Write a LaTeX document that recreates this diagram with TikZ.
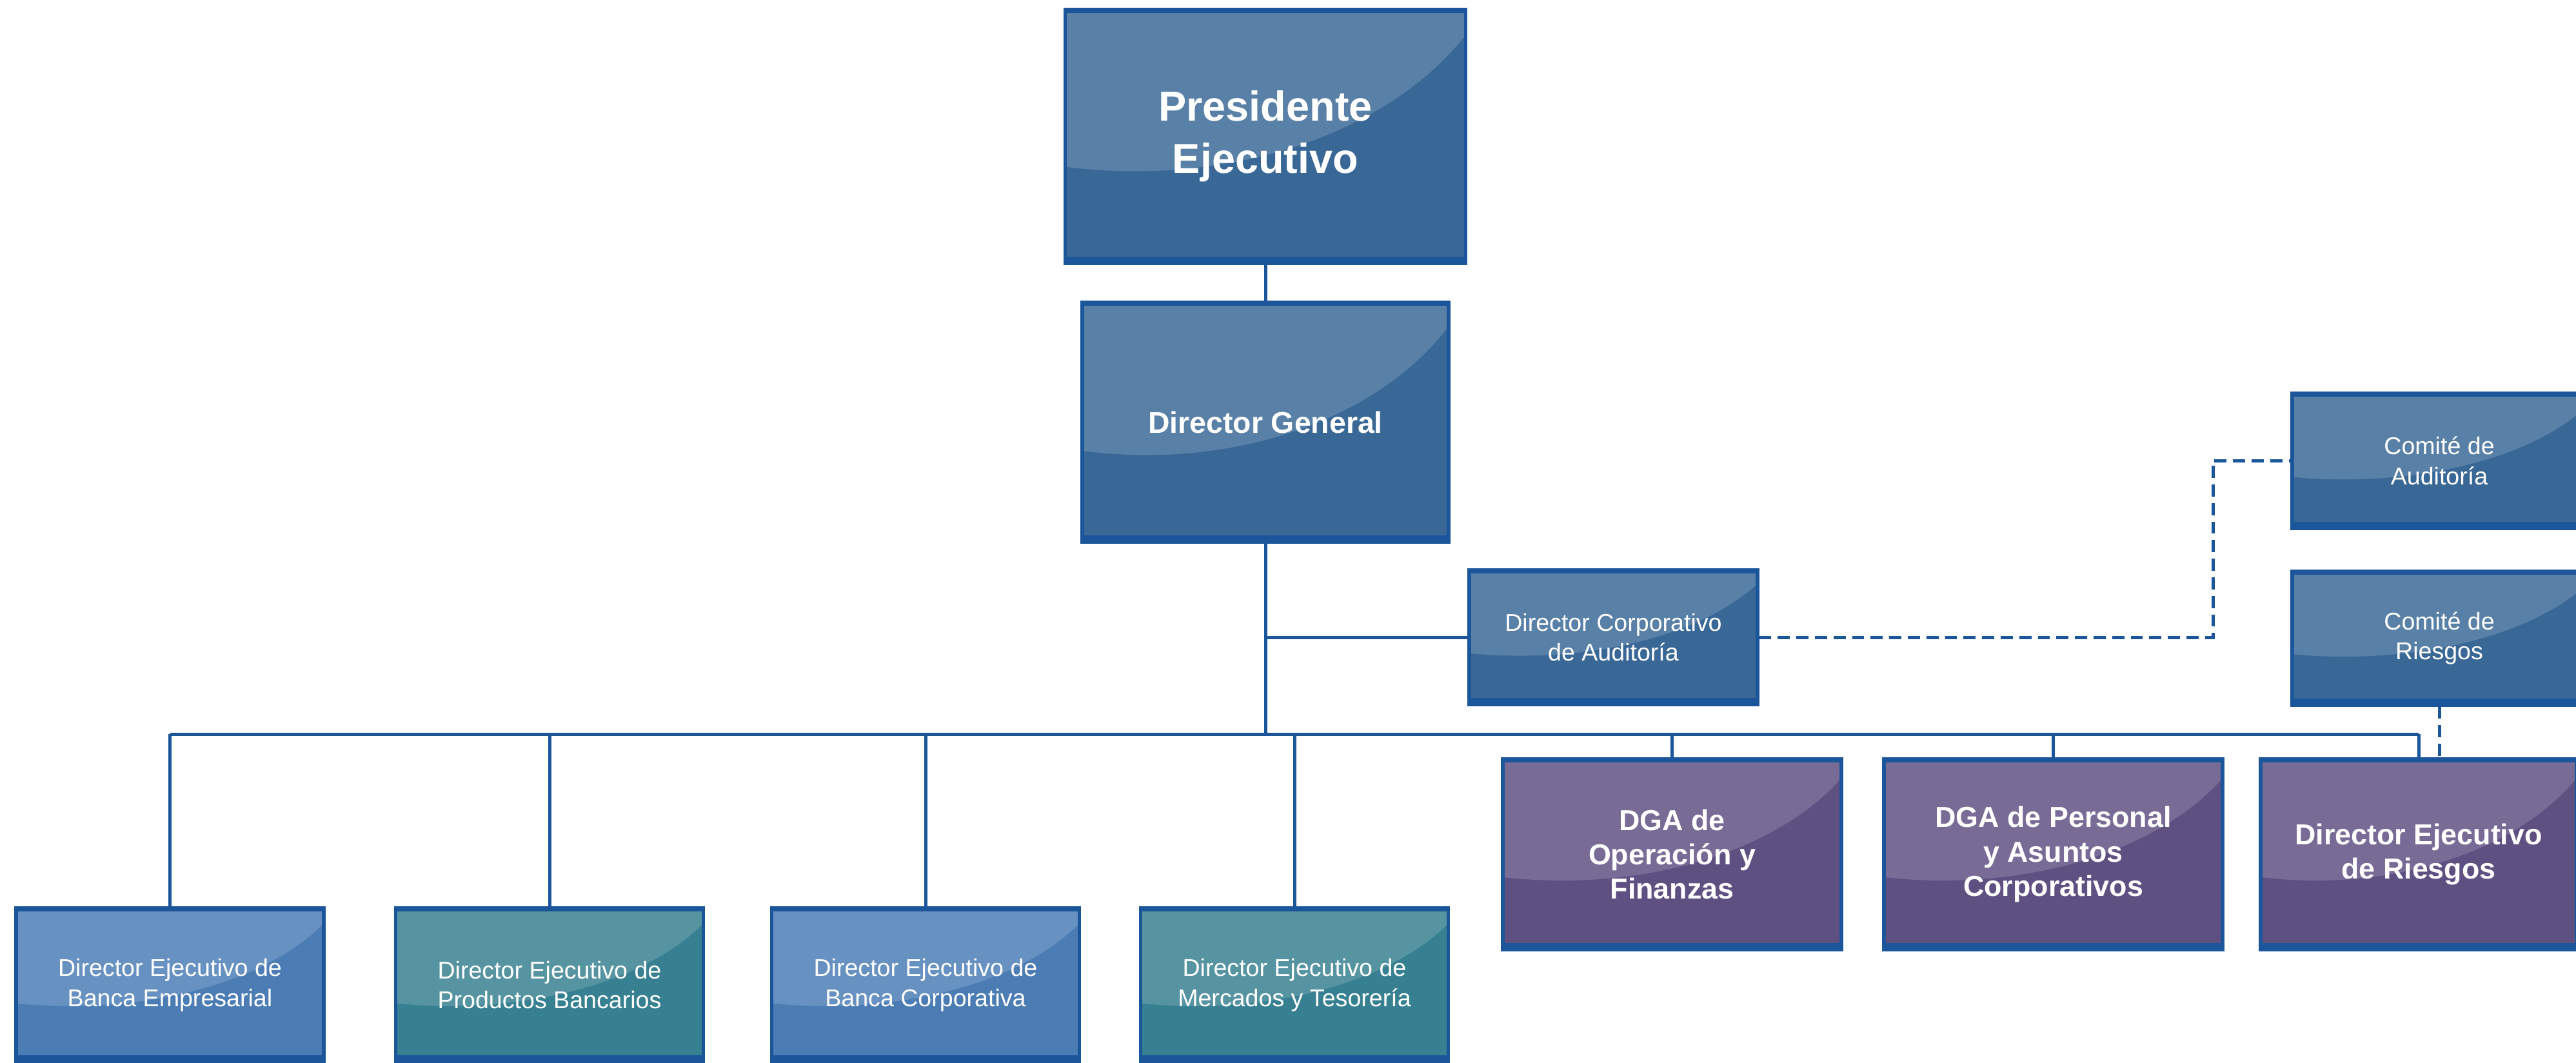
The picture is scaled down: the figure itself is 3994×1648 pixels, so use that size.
\documentclass[tikz,border=0pt]{standalone}
\usepackage{fontspec}
\setmainfont{Liberation Sans}
\usetikzlibrary{calc}
\definecolor{bordercol}{HTML}{1B559A}
\definecolor{linecol}{HTML}{1B559A}
\definecolor{navyfill}{HTML}{3A6896}
\definecolor{bluefill}{HTML}{4B7DB4}
\definecolor{tealfill}{HTML}{378091}
\definecolor{purplefill}{HTML}{5F5082}
\tikzset{
  orgbox/.style={rectangle, draw=bordercol, line width=1.3pt, inner sep=0pt,
    align=center, text=white,
    path picture={
      \fill[white,opacity=0.16] let \p1=(path picture bounding box.south west),
        \p2=(path picture bounding box.north east) in
        (\x1,\y2) -- (\x1,{\y1+0.38*(\y2-\y1)})
        .. controls ({\x1+0.4*(\x2-\x1)},{\y1+0.30*(\y2-\y1)}) and ({\x1+0.8*(\x2-\x1)},{\y1+0.50*(\y2-\y1)})
        .. (\x2,{\y1+0.90*(\y2-\y1)}) -- (\x2,\y2) -- cycle;
      \fill[bordercol] let \p1=(path picture bounding box.south west),
        \p2=(path picture bounding box.north east) in
        (\x1,\y1) rectangle (\x2,{\y1+2.6pt});
      \fill[bordercol] let \p1=(path picture bounding box.south west),
        \p2=(path picture bounding box.north east) in
        (\x1,\y2) rectangle (\x2,{\y2-1.2pt});
    }},
  navybox/.style={orgbox, fill=navyfill},
  bluebox/.style={orgbox, fill=bluefill},
  tealbox/.style={orgbox, fill=tealfill},
  purplebox/.style={orgbox, fill=purplefill},
  presfont/.style={font=\fontsize{16.2}{20.2}\selectfont\bfseries},
  boldfont/.style={font=\fontsize{11.2}{13.3}\selectfont\bfseries},
  smallfont/.style={font=\fontsize{9.4}{11.7}\selectfont},
  conn/.style={draw=linecol, line width=1.25pt},
  dconn/.style={conn, dash pattern=on 4.7pt off 2.5pt},
}
\begin{document}
\begin{tikzpicture}[x=0.25pt, y=-0.25pt]
\useasboundingbox (0,0) rectangle (3994,1648);
\fill[white] (0,0) rectangle (3994,1648);

% top
\node[navybox, presfont, minimum width=155.25pt, minimum height=98.25pt] (pres) at (1962,211.5) {Presidente\\Ejecutivo};
\node[navybox, font=\fontsize{11.6}{14}\selectfont\bfseries, minimum width=142pt, minimum height=92.75pt] (dg) at (1962,654.5) {Director General};
\node[navybox, smallfont, minimum width=111.75pt, minimum height=52pt] (dca) at (2501.5,988) {Director Corporativo\\de Auditoría};
\node[navybox, smallfont, minimum width=114pt, minimum height=52.25pt] (ca) at (3782,714.5) {Comité de\\Auditoría};
\node[navybox, smallfont, minimum width=114pt, minimum height=51.75pt] (cr) at (3782,989.5) {Comité de\\Riesgos};

% bottom left
\node[bluebox, smallfont, minimum width=119.25pt, minimum height=59.5pt] (b1) at (263.5,1527) {Director Ejecutivo de\\Banca Empresarial};
\node[tealbox, smallfont, minimum width=119.25pt, minimum height=59.5pt] (b2) at (852,1527) {Director Ejecutivo de\\Productos Bancarios};
\node[bluebox, smallfont, minimum width=119.25pt, minimum height=59.5pt] (b3) at (1435,1527) {Director Ejecutivo de\\Banca Corporativa};
\node[tealbox, smallfont, minimum width=119.25pt, minimum height=59.5pt] (b4) at (2007,1527) {Director Ejecutivo de\\Mercados y Tesorería};

% purple
\node[purplebox, boldfont, minimum width=131.25pt, minimum height=73.75pt] (p1) at (2592.5,1324.5) {DGA de\\Operación y\\Finanzas};
\node[purplebox, boldfont, minimum width=131.25pt, minimum height=73.75pt] (p2) at (3183.5,1324.5) {DGA de Personal\\y Asuntos\\Corporativos};
\node[purplebox, boldfont, minimum width=122.5pt, minimum height=73.75pt] (p3) at (3750,1324.5) {Director Ejecutivo\\de Riesgos};

% connectors
\coordinate (busy) at (0,1138);
\coordinate (dturn) at (3431,988);
\draw[conn] (pres.south) -- (dg.north);
\draw[conn] (dg.south) -- (dg.south |- busy);
\draw[conn] (dg.south |- dca.west) -- (dca.west);
\draw[conn] (b1.north |- busy) -- (p3.north |- busy);
\foreach \n in {b1,b2,b3,b4,p1,p2,p3}{
  \draw[conn] (\n.north |- busy) -- (\n.north);
}
\draw[dconn] (dca.east) -- (dturn) |- (ca.west);
\draw[dconn] (cr.south) -- (cr.south |- p3.north);
\end{tikzpicture}
\end{document}
